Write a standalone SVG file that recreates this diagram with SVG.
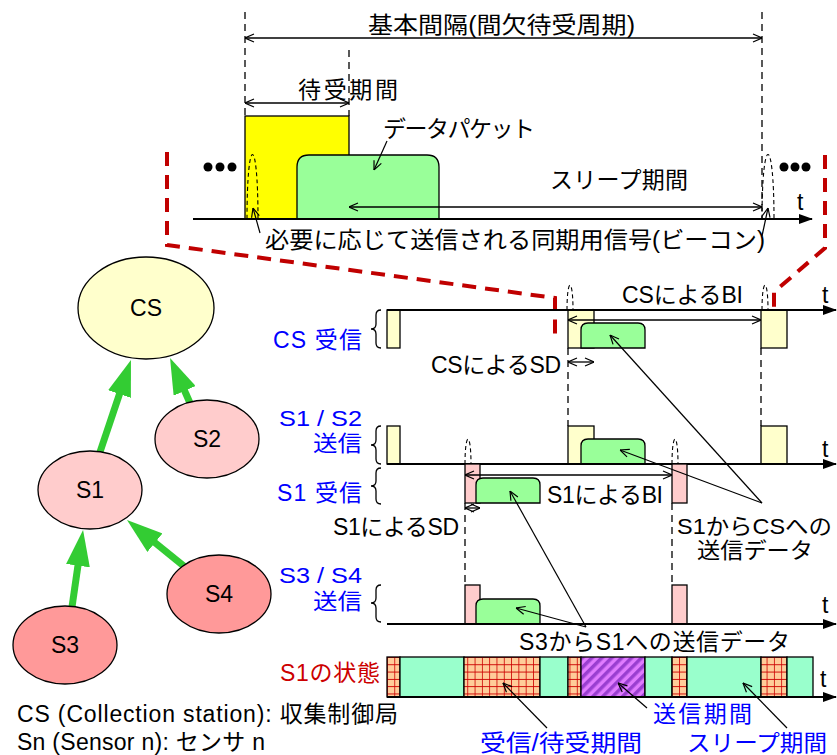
<svg xmlns="http://www.w3.org/2000/svg" width="837" height="755" viewBox="0 0 837 755">
<style>
.t{font-family:"Liberation Sans","Noto Sans CJK JP",sans-serif;font-size:23px;fill:#000}
.s{font-size:22px}
.b{fill:#0000FF}
.r{fill:#CC0000}
.ln{stroke:#000;stroke-width:1.3;fill:none}
.dim{stroke:#000;stroke-width:1.3;fill:none;marker-start:url(#oa);marker-end:url(#oa)}
.ptr{stroke:#000;stroke-width:1.2;fill:none;marker-end:url(#oa)}
.dash{stroke:#000;stroke-width:1.3;fill:none;stroke-dasharray:7,5}
.bcn{stroke:#000;stroke-width:1.1;fill:none;stroke-dasharray:4,3}
.red{stroke:#C00000;stroke-width:4;fill:none;stroke-dasharray:14,9}
.axis{stroke:#000;stroke-width:2;fill:none;marker-end:url(#ah)}
.yl{fill:#FFFFCC;stroke:#000;stroke-width:1.3}
.pk{fill:#FFCCCC;stroke:#000;stroke-width:1.3}
.gr{fill:#99FF99;stroke:#000;stroke-width:1.3}
.mint{fill:#99FFCC;stroke:#000;stroke-width:1.3}
.grid{fill:url(#gridp);stroke:#000;stroke-width:1.3}
.hatch{fill:url(#hatchp);stroke:#000;stroke-width:1.3}
.node{stroke:#000;stroke-width:1.3}
.edge{stroke:#33CC33;stroke-width:7;fill:none;marker-end:url(#ga)}
</style>
<defs>
<marker id="oa" viewBox="0 0 10 10" refX="10" refY="5" markerWidth="10" markerHeight="10" markerUnits="userSpaceOnUse" orient="auto-start-reverse"><path d="M1,1 L10,5 L1,9" fill="none" stroke="#000" stroke-width="1.2"/></marker>
<marker id="ah" viewBox="0 0 14 10" refX="13" refY="5" markerWidth="14" markerHeight="10" markerUnits="userSpaceOnUse" orient="auto"><path d="M0,0 L14,5 L0,10 z" fill="#000"/></marker>
<marker id="ga" viewBox="0 0 36 24" refX="6" refY="12" markerWidth="36" markerHeight="24" markerUnits="userSpaceOnUse" orient="auto"><path d="M0,0 L36,12 L0,24 z" fill="#33CC33"/></marker>
<pattern id="gridp" patternUnits="userSpaceOnUse" x="387" y="657" width="7.3" height="7.3"><rect width="7.3" height="7.3" fill="#FFCC99"/><path d="M0,0 H7.3 M0,0 V7.3" stroke="#CC0000" stroke-width="1.6"/></pattern>
<pattern id="hatchp" patternUnits="userSpaceOnUse" width="7" height="7" patternTransform="rotate(45)"><rect width="7" height="7" fill="#E07BFF"/><rect width="3.5" height="7" fill="#9A3FD0"/></pattern>
</defs>

<!-- Top enlarged view -->
<g id="top-view">
<path class="dash" d="M245,12 V116 M349,50 V116 M762,12 V219"/>
<rect x="245" y="116" width="104" height="103" fill="#FFFF00" stroke="#000" stroke-width="1.3"/>
<path class="gr" d="M297,219 V167 Q297,155 309,155 H427 Q439,155 439,167 V219 Z"/>
<path class="bcn" d="M247,219 C247,133 258,133 258,219"/>
<path class="bcn" d="M762,219 C762,133 774,133 774,219"/>
<line class="axis" x1="193" y1="219" x2="812" y2="219"/>
<line class="dim" x1="245" y1="38" x2="762" y2="38"/>
<line class="dim" x1="245" y1="103" x2="349" y2="103"/>
<line class="dim" x1="349" y1="207" x2="762" y2="207"/>
<line class="ptr" x1="387" y1="141" x2="374" y2="170"/>
<line class="ptr" x1="260" y1="233" x2="253" y2="208"/>
<line class="ptr" x1="762" y1="236" x2="768" y2="208"/>
<g fill="#000"><circle cx="208" cy="167" r="4.5"/><circle cx="220" cy="167" r="4.5"/><circle cx="232" cy="167" r="4.5"/><circle cx="784" cy="167" r="4.5"/><circle cx="795" cy="167" r="4.5"/><circle cx="806" cy="167" r="4.5"/></g>
<text class="t" x="368" y="33" font-size="24" textLength="267" lengthAdjust="spacingAndGlyphs">基本間隔(間欠待受周期)</text>
<text class="t" x="298" y="98" font-size="24" textLength="100">待受期間</text>
<text class="t" x="383" y="137" textLength="152">データパケット</text>
<text class="t" x="550" y="188" textLength="138">スリープ期間</text>
<text class="t" x="265" y="248" textLength="500" lengthAdjust="spacingAndGlyphs">必要に応じて送信される同期用信号(ビーコン)</text>
<text class="t" x="797" y="210">t</text>
</g>

<!-- red zoom guide lines -->
<path class="red" d="M167,152 L167,245 L555,298 L555,338"/>
<path class="red" d="M825,155 L825,248 L774,292 L774,340"/>

<!-- Timing diagram -->
<g id="timing">
<path class="dash" d="M568,348 V426 M761,348 V426 M465,503 V585 M672,503 V585"/>
<!-- CS row -->
<rect class="yl" x="387" y="310" width="13" height="38"/>
<rect class="yl" x="568" y="310" width="26" height="38"/>
<rect class="yl" x="761" y="310" width="26" height="38"/>
<path class="gr" d="M581,348 V330 Q581,323 588,323 H638 Q645,323 645,330 V348 Z"/>
<path class="bcn" d="M567,310 C567,277 573,277 573,310 M762,310 C762,277 768,277 768,310"/>
<line class="axis" x1="387" y1="310" x2="836" y2="310"/>
<line class="dim" x1="568" y1="320" x2="761" y2="320"/>
<line class="dim" x1="568" y1="362" x2="594" y2="362"/>
<!-- S1/S2 row -->
<rect class="yl" x="387" y="426" width="13" height="38"/>
<rect class="yl" x="568" y="426" width="26" height="38"/>
<rect class="yl" x="761" y="426" width="26" height="38"/>
<path class="gr" d="M581,464 V446 Q581,439 588,439 H638 Q645,439 645,446 V464 Z"/>
<path class="bcn" d="M465,464 C465,431 471,431 471,464 M672,464 C672,431 678,431 678,464"/>
<line class="axis" x1="387" y1="464" x2="836" y2="464"/>
<!-- S1 receive row -->
<rect class="pk" x="465" y="464" width="15" height="39"/>
<rect class="pk" x="672" y="464" width="15" height="39"/>
<path class="gr" d="M476,503 V485 Q476,478 483,478 H533 Q540,478 540,485 V503 Z"/>
<line class="dim" x1="465" y1="475" x2="672" y2="475"/>
<line class="dim" x1="465" y1="508" x2="480" y2="508"/>
<!-- S3/S4 row -->
<rect class="pk" x="465" y="585" width="15" height="39"/>
<rect class="pk" x="672" y="585" width="15" height="39"/>
<path class="gr" d="M476,624 V606 Q476,599 483,599 H533 Q540,599 540,606 V624 Z"/>
<line class="axis" x1="387" y1="624" x2="836" y2="624"/>
<!-- braces -->
<path class="ln" d="M381,310 Q376,310 376,315 V324 Q376,329 371,329 Q376,329 376,334 V343 Q376,348 381,348"/>
<path class="ln" d="M381,426 Q376,426 376,431 V440 Q376,445 371,445 Q376,445 376,450 V459 Q376,464 381,464"/>
<path class="ln" d="M381,468 Q376,468 376,473 V481 Q376,486 371,486 Q376,486 376,491 V499 Q376,504 381,504"/>
<path class="ln" d="M381,585 Q376,585 376,590 V598 Q376,603 371,603 Q376,603 376,608 V617 Q376,622 381,622"/>
<!-- pointers -->
<line class="ptr" x1="762" y1="503" x2="610" y2="335"/>
<line class="ptr" x1="762" y1="503" x2="620" y2="450"/>
<line class="ptr" x1="586" y1="627" x2="510" y2="491"/>
<line class="ptr" x1="586" y1="627" x2="516" y2="608"/>
<!-- labels -->
<text class="t" x="622" y="303" textLength="121">CSによるBI</text>
<text class="t" x="822" y="303">t</text>
<text class="t b" x="273" y="348" textLength="89">CS 受信</text>
<text class="t" x="431" y="373" textLength="130">CSによるSD</text>
<text class="t b s" x="279" y="426" textLength="83" lengthAdjust="spacingAndGlyphs">S1 / S2</text>
<text class="t b s" x="313" y="451" textLength="49" lengthAdjust="spacingAndGlyphs">送信</text>
<text class="t" x="822" y="457">t</text>
<text class="t b" x="277" y="501" textLength="85">S1 受信</text>
<text class="t" x="547" y="503" textLength="116">S1によるBI</text>
<text class="t" x="333" y="535" textLength="126">S1によるSD</text>
<text class="t s" x="677" y="534" textLength="155" lengthAdjust="spacingAndGlyphs">S1からCSへの</text>
<text class="t s" x="697" y="558" textLength="116" lengthAdjust="spacingAndGlyphs">送信データ</text>
<text class="t b s" x="279" y="583" textLength="83" lengthAdjust="spacingAndGlyphs">S3 / S4</text>
<text class="t b s" x="313" y="609" textLength="49" lengthAdjust="spacingAndGlyphs">送信</text>
<text class="t" x="822" y="613">t</text>
<text class="t" x="519" y="650" textLength="271">S3からS1への送信データ</text>
</g>

<!-- S1 state bar -->
<g id="s1-state">
<rect class="grid" x="387" y="657" width="13" height="40"/>
<rect class="mint" x="400" y="657" width="64" height="40"/>
<rect class="grid" x="464" y="657" width="76" height="40"/>
<rect class="mint" x="540" y="657" width="28" height="40"/>
<rect class="grid" x="568" y="657" width="13" height="40"/>
<rect class="hatch" x="581" y="657" width="64" height="40"/>
<rect class="mint" x="645" y="657" width="27" height="40"/>
<rect class="grid" x="672" y="657" width="15" height="40"/>
<rect class="mint" x="687" y="657" width="74" height="40"/>
<rect class="grid" x="761" y="657" width="26" height="40"/>
<rect class="mint" x="787" y="657" width="26" height="40"/>
<line class="axis" x1="387" y1="697" x2="836" y2="697"/>
<line class="ptr" x1="547" y1="728" x2="503" y2="683"/>
<line class="ptr" x1="647" y1="708" x2="618" y2="683"/>
<line class="ptr" x1="787" y1="728" x2="743" y2="683"/>
<text class="t r" x="280" y="681" textLength="100">S1の状態</text>
<text class="t" x="820" y="687">t</text>
<text class="t b" x="653" y="722" textLength="99">送信期間</text>
<text class="t b" x="480" y="751" font-size="22" textLength="162" lengthAdjust="spacingAndGlyphs">受信/待受期間</text>
<text class="t b" x="687" y="751" font-size="22" textLength="140" lengthAdjust="spacingAndGlyphs">スリープ期間</text>
</g>

<!-- Legend -->
<text class="t" x="17" y="722" font-size="22" textLength="381">CS (Collection station): 収集制御局</text>
<text class="t" x="17" y="750" font-size="22" textLength="248">Sn (Sensor n): センサ n</text>

<!-- Network connectors -->
<g id="connectors">
<line class="edge" x1="100" y1="452" x2="121.4" y2="388.4"/>
<line class="edge" x1="190" y1="403" x2="182.2" y2="385.4"/>
<line class="edge" x1="72" y1="607" x2="78.8" y2="559.7"/>
<line class="edge" x1="185" y1="567" x2="150.3" y2="538.9"/>
</g>

<!-- Nodes -->
<g id="CS"><ellipse class="node" cx="146" cy="308" rx="68" ry="51" fill="#FFFFCC"/><text class="t" x="146" y="316" text-anchor="middle">CS</text></g>
<g id="S2"><ellipse class="node" cx="207" cy="439" rx="52" ry="39" fill="#FFCCCC"/><text class="t" x="207" y="447" text-anchor="middle">S2</text></g>
<g id="S1"><ellipse class="node" cx="90" cy="490" rx="52" ry="39" fill="#FFCCCC"/><text class="t" x="90" y="498" text-anchor="middle">S1</text></g>
<g id="S4"><ellipse class="node" cx="219" cy="594" rx="52" ry="39" fill="#FF9999"/><text class="t" x="219" y="602" text-anchor="middle">S4</text></g>
<g id="S3"><ellipse class="node" cx="65" cy="645" rx="52" ry="39" fill="#FF9999"/><text class="t" x="65" y="653" text-anchor="middle">S3</text></g>
</svg>
